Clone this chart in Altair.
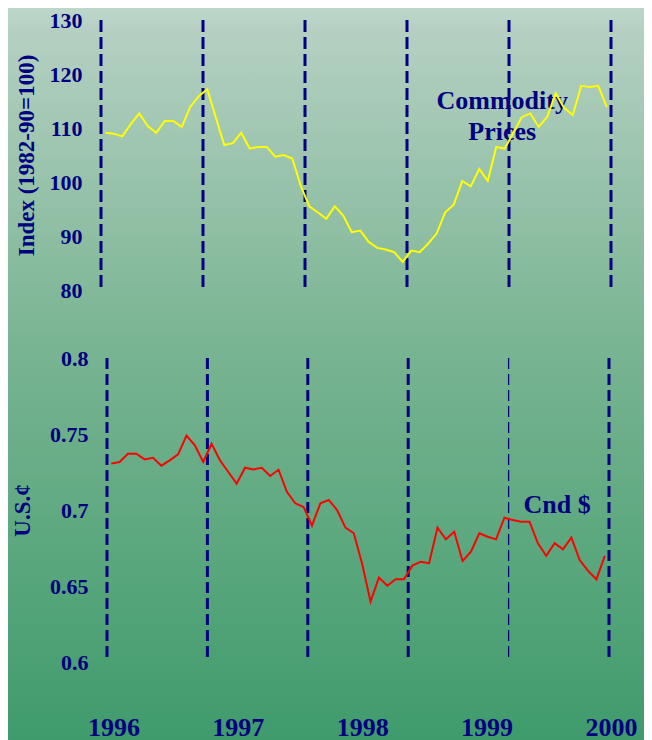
import altair as alt
import pandas as pd

# ---------------- data ----------------
months = list(range(60))  # monthly observations, 5 years

commodity = [109.1, 108.95, 108.45, 110.7, 112.7, 110.35, 109.1, 111.3, 111.3, 110.2,
             113.9, 115.9, 117.2, 112.0, 106.85, 107.2, 109.1, 106.2, 106.5, 106.5,
             104.7, 105.0, 104.35, 99.3, 95.5, 94.4, 93.2, 95.5, 93.8, 90.7,
             91.0, 88.9, 87.8, 87.5, 87.0, 85.2, 87.3, 87.0, 88.6, 90.5,
             94.4, 95.8, 100.2, 99.2, 102.4, 100.2, 106.5, 106.2, 109.1, 112.0,
             112.7, 110.2, 112.1, 116.4, 113.7, 112.4, 117.8, 117.6, 117.8, 113.85]

cad = [0.7305, 0.7316, 0.737, 0.737, 0.7333, 0.7344, 0.7292, 0.7327, 0.7366, 0.7489,
       0.7426, 0.7316, 0.7436, 0.7327, 0.725, 0.7173, 0.7278, 0.7267, 0.7278, 0.7224,
       0.7265, 0.712, 0.7044, 0.702, 0.6897, 0.7044, 0.7066, 0.700, 0.6884, 0.6847,
       0.6645, 0.6397, 0.6555, 0.6502, 0.6544, 0.6544, 0.6634, 0.666, 0.665, 0.6884,
       0.6807, 0.6857, 0.6664, 0.6726, 0.6847, 0.6824, 0.6807, 0.6949, 0.6934, 0.6923,
       0.6923, 0.6781, 0.6699, 0.6781, 0.6741, 0.6818, 0.6671, 0.6599, 0.6544, 0.6699]

year_breaks = [0, 12, 24, 36, 48, 60]
year_labels = [1996, 1997, 1998, 1999, 2000]
top_ticks = [80, 90, 100, 110, 120, 130]
bottom_ticks = [0.6, 0.65, 0.7, 0.75, 0.8]

# ---------------- style ----------------
NAVY = "#000080"
FONT = "Liberation Serif"

W, H = 510, 642

top_x = alt.Scale(domain=[0, 60], range=[0, 510])
top_y = alt.Scale(domain=[80, 130], range=[270, 0])
bot_x = alt.Scale(domain=[0, 60], range=[6, 508])
bot_y = alt.Scale(domain=[0.6, 0.8], range=[642, 338])

df_top = pd.DataFrame({"m": [m + 0.5 for m in months], "v": commodity})
df_bot = pd.DataFrame({"m": [m + 0.5 for m in months], "v": cad})
df_breaks = pd.DataFrame({"b": year_breaks})
df_top_breaks = df_breaks.assign(y1=130, y2=80)
df_bot_breaks = df_breaks.assign(y1=0.8, y2=0.6)
df_years = pd.DataFrame({"yr": year_labels})
df_ann_top = pd.DataFrame({"x": [47.2], "y": [113.5]})
df_ann_bot = pd.DataFrame({"x": [53.8], "y": [0.698]})


def y_axis(values, fmt, title, pad, title_x):
    return alt.Axis(values=values, format=fmt, title=title, orient="left",
                    domain=False, ticks=False, tickSize=0, grid=False, zindex=2,
                    labelFlush=False, labelFont=FONT, labelFontWeight="bold",
                    labelFontSize=22, labelColor=NAVY, labelPadding=pad,
                    titleFont=FONT, titleFontWeight="bold", titleFontSize=23,
                    titleColor=NAVY, titleX=title_x, titleBaseline="middle")


top_axis = y_axis(top_ticks, "d", "Index (1982-90=100)", 19, -75)
bot_axis = y_axis(bottom_ticks, "~g", "U.S.¢", 13, -79)

# background gradient
bg = alt.Chart(pd.DataFrame({"k": [0]})).mark_rect(
    fill=alt.LinearGradient(
        gradient="linear",
        stops=[alt.GradientStop(color="#bdd6ca", offset=0),
               alt.GradientStop(color="#b5d0c2", offset=0.03),
               alt.GradientStop(color="#7ab593", offset=0.45),
               alt.GradientStop(color="#3f9b6c", offset=1)],
        x1=0, x2=0, y1=0, y2=1)
).encode(x=alt.value(-93), x2=alt.value(543), y=alt.value(-12), y2=alt.value(720))

# top panel
top_text = alt.Chart(df_ann_top).mark_text(
    text=["Commodity", "Prices"], font=FONT, fontWeight="bold", fontSize=26,
    color=NAVY, align="center", baseline="alphabetic", lineHeight=31
).encode(x=alt.X("x:Q", scale=top_x, axis=None),
         y=alt.Y("y:Q", scale=top_y, axis=top_axis))

top_rules = alt.Chart(df_top_breaks).mark_rule(
    color=NAVY, strokeWidth=3, strokeDash=[12, 5]
).encode(x=alt.X("b:Q", scale=top_x, axis=None),
         y=alt.Y("y1:Q", scale=top_y, axis=top_axis), y2="y2:Q")

top_line = alt.Chart(df_top).mark_line(color="#ffff00", strokeWidth=2).encode(
    x=alt.X("m:Q", scale=top_x, axis=None),
    y=alt.Y("v:Q", scale=top_y, axis=top_axis))

top = alt.layer(top_text, top_rules, top_line)

# bottom panel
bot_text = alt.Chart(df_ann_bot).mark_text(
    text="Cnd $", font=FONT, fontWeight="bold", fontSize=26,
    color=NAVY, align="center", baseline="alphabetic"
).encode(x=alt.X("x:Q", scale=bot_x, axis=None),
         y=alt.Y("y:Q", scale=bot_y, axis=bot_axis))

bot_rules = alt.Chart(df_bot_breaks).mark_rule(
    color=NAVY, strokeDash=[11, 5]
).encode(x=alt.X("b:Q", scale=bot_x, axis=None),
         y=alt.Y("y1:Q", scale=bot_y, axis=bot_axis), y2="y2:Q",
         strokeWidth=alt.condition(alt.datum.b == 48, alt.value(1.3), alt.value(3)))

bot_line = alt.Chart(df_bot).mark_line(color="#ff0000", strokeWidth=2).encode(
    x=alt.X("m:Q", scale=bot_x, axis=None),
    y=alt.Y("v:Q", scale=bot_y, axis=bot_axis))

bottom = alt.layer(bot_text, bot_rules, bot_line)

# year labels along the bottom
years = alt.Chart(df_years).mark_point(opacity=0).encode(
    x=alt.X("yr:Q", scale=alt.Scale(domain=[1995.9, 2000.0], range=[0, 510]),
            axis=alt.Axis(values=year_labels, format="d", title=None, orient="bottom",
                          domain=False, ticks=False, tickSize=0, grid=False, zindex=2,
                          labelFlush=False, labelOverlap=False, labelBound=False,
                          labelFont=FONT, labelFontWeight="bold", labelFontSize=26,
                          labelColor=NAVY, labelPadding=73,
                          labelBaseline="alphabetic")),
    y=alt.value(0))

chart = alt.layer(bg, top, bottom, years).resolve_scale(
    x="independent", y="independent"
).properties(
    width=W, height=H,
    autosize=alt.AutoSizeParams(type="none"),
    padding={"left": 93, "top": 12, "right": 33, "bottom": 78},
).configure_view(stroke=None)

chart.save("out.html", embed_options={"renderer": "svg", "actions": False})
